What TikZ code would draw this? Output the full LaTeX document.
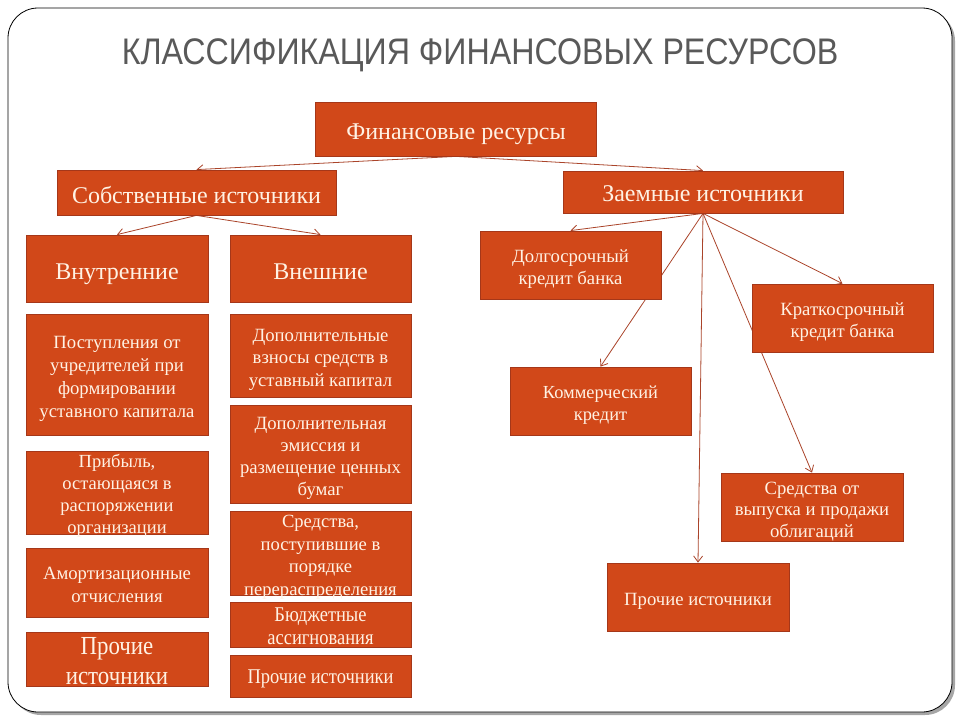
\documentclass[tikz,border=0pt]{standalone}
\usepackage{fontspec}
\setmainfont{Liberation Serif}
\newfontfamily\titlefont[FakeStretch=0.87]{Liberation Sans}
\newfontfamily\narrowserif[FakeStretch=0.88]{Liberation Serif}
\usetikzlibrary{arrows.meta}

\definecolor{boxfill}{RGB}{209,72,25}
\definecolor{boxedge}{RGB}{165,55,25}
\definecolor{boxtext}{RGB}{255,242,228}
\definecolor{linkcol}{RGB}{170,68,42}
\definecolor{titlegray}{RGB}{89,89,89}

\pgfdeclarelayer{slide}
\pgfdeclarelayer{links}
\pgfsetlayers{slide,links,main}

\tikzset{
  resbox/.style={draw=boxedge, line width=0.8pt, fill=boxfill, text=boxtext,
    align=flush center, inner xsep=1pt, inner ysep=-6pt, text width=174pt,
    execute at begin node={\rule{0pt}{1.12em}}},
  widebox/.style={resbox, text width=272pt},
  link/.style={draw=linkcol, line width=0.8pt, -{Straight Barb[length=6pt,width=9pt]}}
}

\newcommand{\fs}[2]{\fontsize{#1}{#2}\selectfont}
% lift the ink of a line a little, keeping its box
\newcommand{\up}[2]{\raisebox{#1}[\height][\depth]{#2}}

\begin{document}
\begin{tikzpicture}[x=1pt,y=-1pt]
\useasboundingbox (0,0) rectangle (960,720);

% slide frame
\begin{pgfonlayer}{slide}
\fill[gray!70, rounded corners=30pt] (11,11) rectangle (955,715);
\draw[fill=white, line width=0.8pt, rounded corners=30pt] (8,8) rectangle (952,712);
\end{pgfonlayer}

\node[text=titlegray, font=\titlefont\fs{37}{42}] (title) at (480,55)
  {КЛАССИФИКАЦИЯ ФИНАНСОВЫХ РЕСУРСОВ};

% top level
\node[widebox, minimum width=281, minimum height=54, font=\fs{24}{28}] (fin) at (456,129)
  {Финансовые ресурсы};
\node[widebox, minimum width=279, minimum height=45, font=\fs{24}{28}] (own) at (196.5,192.5)
  {\up{2pt}{Собственные источники}};
\node[widebox, minimum width=280, minimum height=42, font=\fs{24}{28}] (debt) at (703,192)
  {\up{4pt}{Заемные источники}};

% own sources
\node[resbox, minimum width=182, minimum height=67, font=\fs{24}{28}] (inner) at (117,268.5)
  {Внутренние};
\node[resbox, minimum width=181, minimum height=67, font=\fs{24}{28}] (outer) at (320.5,268.5)
  {\up{2pt}{Внешние}};

\node[resbox, minimum width=182, minimum height=121, font=\fs{18.7}{23}] (founders) at (117,374.5)
  {Поступления от\\учредителей при\\формировании\\уставного капитала};
\node[resbox, minimum width=182, minimum height=83, font=\fs{18.5}{22}] (profit) at (117,492.5)
  {Прибыль,\\остающаяся в\\распоряжении\\организации};
\node[resbox, minimum width=182, minimum height=69, font=\fs{18.7}{23}] (amort) at (117,582.5)
  {\up{2pt}{Амортизационные}\\\up{2pt}{отчисления}};
\node[resbox, minimum width=182, minimum height=54, font=\narrowserif\fs{26}{30}] (otherL) at (117,659)
  {\up{3.5pt}{Прочие}\\\up{3.5pt}{источники}};

\node[resbox, minimum width=181, minimum height=83, font=\fs{18.7}{22.5}] (contrib) at (320.5,355.5)
  {Дополнительные\\взносы средств в\\уставный капитал};
\node[resbox, minimum width=181, minimum height=98, font=\fs{18.7}{22}] (emission) at (320.5,454)
  {Дополнительная\\эмиссия и\\размещение ценных\\бумаг};
\node[resbox, minimum width=181, minimum height=84, font=\fs{18.6}{22.5}] (redistr) at (320.5,553)
  {Средства,\\поступившие в\\порядке\\перераспределения};
\node[resbox, minimum width=181, minimum height=45, font=\narrowserif\fs{21}{23}] (budget) at (320.5,624.5)
  {\up{3pt}{Бюджетные}\\\up{3pt}{ассигнования}};
\node[resbox, minimum width=181, minimum height=42, font=\narrowserif\fs{21}{24}] (otherM) at (320.5,676)
  {\up{2pt}{Прочие источники}};

% borrowed sources
\node[resbox, minimum width=181, minimum height=68, font=\fs{18.7}{22}] (long) at (570.5,265)
  {Долгосрочный\\кредит банка};
\node[resbox, minimum width=181, minimum height=68, font=\fs{18.7}{22}] (short) at (842.5,318)
  {Краткосрочный\\кредит банка};
\node[resbox, minimum width=181, minimum height=68, font=\fs{18.4}{22}] (comm) at (600.5,401)
  {Коммерческий\\кредит};
\node[resbox, minimum width=182, minimum height=68, font=\fs{18.7}{21.5}] (bonds) at (812,507)
  {Средства от\\выпуска и продажи\\облигаций};
\node[resbox, minimum width=182, minimum height=68, font=\fs{18.7}{22}] (otherR) at (698,597)
  {Прочие источники};

% links, kept under the boxes
\begin{pgfonlayer}{links}
\draw[link] (fin.south) -- (own.north);
\draw[link] (fin.south) -- (debt.north);
\draw[link] (own.south) -- (inner.north);
\draw[link] (own.south) -- (outer.north);
\foreach \t in {long,short,comm,bonds,otherR}
  \draw[link] (debt.south) -- (\t.north);
\end{pgfonlayer}
\end{tikzpicture}
\end{document}
